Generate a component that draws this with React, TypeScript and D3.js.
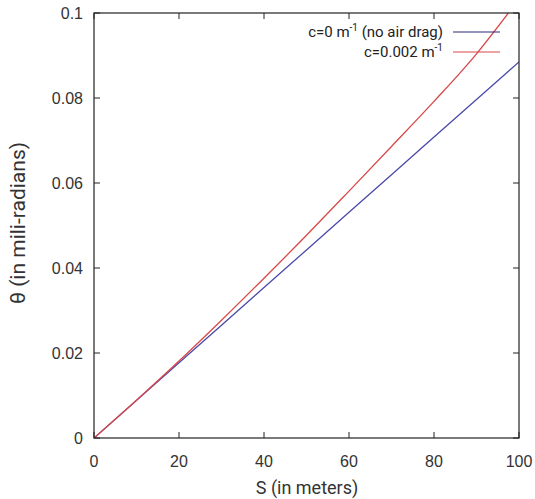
import React from "react";
import * as d3 from "d3";

// distance S (m) and angle theta
const sNoDrag = [0, 20, 40, 60, 80, 100];
const thetaNoDrag = [0, 0.0177, 0.0354, 0.0531, 0.0708, 0.0885];

const sDrag = [0, 10, 20, 30, 40, 50, 60, 70, 80, 90, 97.5];
const thetaDrag = [0, 0.0089, 0.0181, 0.0277, 0.0376, 0.0477, 0.0581, 0.0686, 0.0792, 0.0904, 0.1];

const xTicks = [0, 20, 40, 60, 80, 100];
const yTicks = [0, 0.02, 0.04, 0.06, 0.08, 0.1];
const yTickLabels = ["0", "0.02", "0.04", "0.06", "0.08", "0.1"];

const width = 535;
const height = 499;
const margin = { left: 94, right: 16, top: 13, bottom: 61 };

const App = () => {
  const x = d3.scaleLinear().domain([0, 100]).range([margin.left, width - margin.right]);
  const y = d3.scaleLinear().domain([0, 0.1]).range([height - margin.bottom, margin.top]);
  const line = d3
    .line<[number, number]>()
    .x((d) => x(d[0]))
    .y((d) => y(d[1]))
    .curve(d3.curveMonotoneX);

  const blue = sNoDrag.map((s, i) => [s, thetaNoDrag[i]] as [number, number]);
  const red = sDrag.map((s, i) => [s, thetaDrag[i]] as [number, number]);

  const x0 = x(0), x1 = x(100), y0 = y(0), y1 = y(0.1);
  const tick = 6;
  const tickFont = "'Liberation Sans', Arial, sans-serif";
  const labelFont = "Roboto, 'Open Sans', sans-serif";

  return (
    <svg width={width} height={height} style={{ position: "absolute", left: 0, top: 0 }}>
      <rect width={width} height={height} fill="#fff" />
      <defs>
        <clipPath id="plot">
          <rect x={x0} y={y1} width={x1 - x0} height={y0 - y1} />
        </clipPath>
      </defs>
      {xTicks.map((t) => (
        <g key={"x" + t}>
          <line x1={x(t)} x2={x(t)} y1={y0} y2={y0 - tick} stroke="#222" />
          <line x1={x(t)} x2={x(t)} y1={y1} y2={y1 + tick} stroke="#222" />
          <text x={x(t)} y={467} textAnchor="middle" fontFamily={tickFont} fontSize={16} fill="#333">
            {t}
          </text>
        </g>
      ))}
      {yTicks.map((t, i) => (
        <g key={"y" + t}>
          <line x1={x0} x2={x0 + tick} y1={y(t)} y2={y(t)} stroke="#222" />
          <line x1={x1} x2={x1 - tick} y1={y(t)} y2={y(t)} stroke="#222" />
          <text x={83} y={y(t) + 6} textAnchor="end" fontFamily={tickFont} fontSize={16} fill="#333">
            {yTickLabels[i]}
          </text>
        </g>
      ))}
      <g clipPath="url(#plot)">
        <path d={line(blue) ?? ""} fill="none" stroke="#4a4aa8" strokeWidth={1.3} />
        <path d={line(red) ?? ""} fill="none" stroke="#d84848" strokeWidth={1.3} />
      </g>
      <rect x={x0} y={y1} width={x1 - x0} height={y0 - y1} fill="none" stroke="#222" strokeWidth={1.2} />
      <g fontFamily={labelFont} fontSize={15} fill="#222" textAnchor="end">
        <text x={443} y={37}>
          c=0 m<tspan dy={-6} fontSize={10}>-1</tspan>
          <tspan dy={6}> (no air drag)</tspan>
        </text>
        <line x1={453} x2={500} y1={32} y2={32} stroke="#2a2a7a" strokeWidth={1.2} />
        <text x={443} y={57}>
          c=0.002 m<tspan dy={-6} fontSize={10}>-1</tspan>
        </text>
        <line x1={453} x2={500} y1={52} y2={52} stroke="#d84848" strokeWidth={1.2} />
      </g>
      <text x={307} y={494} textAnchor="middle" fontFamily={labelFont} fontSize={18} fill="#333">
        S (in meters)
      </text>
      <text
        transform={`translate(25,223) rotate(-90)`}
        textAnchor="middle"
        fontFamily={labelFont}
        fontSize={21}
        fill="#333"
      >
        θ (in mili-radians)
      </text>
    </svg>
  );
};

export default App;
